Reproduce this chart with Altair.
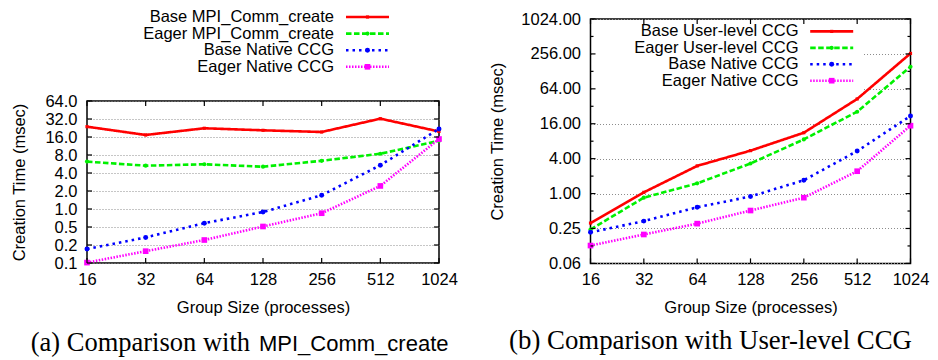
import json
import altair as alt
import pandas as pd

# ---------------- data ----------------
sizes = [16, 32, 64, 128, 256, 512, 1024]

base_mpi = [23.8, 17.3, 22.4, 20.7, 19.4, 32.4, 19.8]
eager_mpi = [6.2, 5.3, 5.6, 5.1, 6.4, 8.4, 13.8]
base_native = [0.215, 0.335, 0.58, 0.89, 1.7, 5.4, 21.8]
eager_native = [0.127, 0.197, 0.303, 0.51, 0.85, 2.43, 14.8]
base_user = [0.31, 1.05, 3.0, 5.5, 11.2, 42.8, 261]
eager_user = [0.24, 0.85, 1.5, 3.3, 8.6, 25.8, 154]

names_a = ["Base MPI_Comm_create", "Eager MPI_Comm_create", "Base Native CCG", "Eager Native CCG"]
names_b = ["Base User-level CCG", "Eager User-level CCG", "Base Native CCG", "Eager Native CCG"]

yticks_a = [0.125, 0.25, 0.5, 1, 2, 4, 8, 16, 32, 64]
ylabels_a = ["0.1", "0.2", "0.5", "1.0", "2.0", "4.0", "8.0", "16.0", "32.0", "64.0"]
yticks_b = [0.0625, 0.25, 1, 4, 16, 64, 256, 1024]
ylabels_b = ["0.06", "0.25", "1.00", "4.00", "16.00", "64.00", "256.00", "1024.00"]
yminor_b = [0.125, 0.5, 2, 8, 32, 128, 512]

caption_a = ["(a) Comparison with", "MPI_Comm_create"]
caption_b = "(b) Comparison with User-level CCG"
x_title = "Group Size (processes)"
y_title = "Creation Time (msec)"

# ---------------- styles ----------------
colors = ["#ff0000", "#00f000", "#0000ff", "#ff00ff"]
dashes = [[1, 0], [5.5, 2.5], [2.5, 4], [1.5, 1.5]]
shapes = ["square", "circle", "circle", "square"]
msizes = [10, 32, 40, 50]
SANS = "Liberation Sans"
SERIF = "Liberation Serif"
FS = 16.5
LW = 2.6


def long_df(names, series):
    rows = []
    for n, vals in zip(names, series):
        for s, v in zip(sizes, vals):
            rows.append({"series": n, "size": s, "value": v})
    return pd.DataFrame(rows)


def enc_style(names):
    return dict(
        color=alt.Color("series:N", scale=alt.Scale(domain=names, range=colors), legend=None),
        strokeDash=alt.StrokeDash("series:N", scale=alt.Scale(domain=names, range=dashes), legend=None),
    )


def enc_marker(names):
    return dict(
        color=alt.Color("series:N", scale=alt.Scale(domain=names, range=colors), legend=None),
        shape=alt.Shape("series:N", scale=alt.Scale(domain=names, range=shapes), legend=None),
        size=alt.Size("series:N", scale=alt.Scale(domain=names, range=msizes), legend=None),
    )


def x_scale():
    return alt.Scale(type="log", base=2, domain=[16, 1024], nice=False)


def y_scale(ydom):
    return alt.Scale(type="log", base=2, domain=ydom, nice=False)


def tick_marks(ydom, yvals, w, h, tsize, with_x=True):
    """Inward tick marks (gnuplot style) on all four sides, placed by the scales."""
    out = []
    rule = dict(color="black", strokeWidth=1.2)
    if with_x:
        xdf = pd.DataFrame({"size": sizes})
        xenc = alt.X("size:Q", scale=x_scale(), axis=None)
        out.append(alt.Chart(xdf).mark_rule(**rule).encode(x=xenc, y=alt.value(h - tsize), y2=alt.value(h)))
        out.append(alt.Chart(xdf).mark_rule(**rule).encode(x=xenc, y=alt.value(0), y2=alt.value(tsize)))
    ydf = pd.DataFrame({"value": yvals})
    yenc = alt.Y("value:Q", scale=y_scale(ydom), axis=None)
    out.append(alt.Chart(ydf).mark_rule(**rule).encode(y=yenc, x=alt.value(0), x2=alt.value(tsize)))
    out.append(alt.Chart(ydf).mark_rule(**rule).encode(y=yenc, x=alt.value(w - tsize), x2=alt.value(w)))
    return out


def legend_layers(names, xt, xa, xb, rows_px):
    ldf = pd.DataFrame({"series": names, "row": list(range(len(names)))})
    lb = alt.Chart(ldf)
    ly = alt.Y("row:Q", scale=alt.Scale(domain=[0, len(names) - 1], range=rows_px), axis=None)
    text = lb.mark_text(align="right", baseline="middle", font=SANS, fontSize=FS, color="black").encode(
        x=alt.value(xt), y=ly, text="series:N")
    rule = lb.mark_rule(strokeWidth=LW).encode(x=alt.value(xa), x2=alt.value(xb), y=ly, **enc_style(names))
    pts = lb.mark_point(filled=True, opacity=1).encode(x=alt.value((xa + xb) / 2), y=ly, **enc_marker(names))
    return [text, rule, pts]


def data_layers(names, series, yticks, ylabels, ydom, ytitle_pad):
    df = long_df(names, series)
    base = alt.Chart(df)
    expr = f"{json.dumps(ylabels)}[indexof({json.dumps(yticks)}, datum.value)]"
    x_main = alt.X("size:Q", scale=x_scale(), axis=alt.Axis(
        orient="bottom", values=sizes, format="d", title=x_title, grid=False, ticks=False,
        domain=False, labelPadding=8, titlePadding=12, labelFlush=False))
    y_main = alt.Y("value:Q", scale=y_scale(ydom), axis=alt.Axis(
        orient="left", values=yticks, labelExpr=expr, title=y_title, grid=True,
        gridColor="#8c8c8c", gridDash=[1, 2], gridWidth=1, ticks=False, domain=False,
        labelPadding=10, titlePadding=ytitle_pad, labelFlush=False))
    lines = base.mark_line(strokeWidth=LW).encode(x=x_main, y=y_main, **enc_style(names))
    pts = base.mark_point(filled=True, opacity=1).encode(
        x=alt.X("size:Q", scale=x_scale(), axis=None),
        y=alt.Y("value:Q", scale=y_scale(ydom), axis=None), **enc_marker(names))
    return [lines, pts]


def caption_text(txt, font, size, align, x, y):
    return alt.Chart(pd.DataFrame({"t": [txt]})).mark_text(
        font=font, fontSize=size, align=align, baseline="alphabetic", color="black").encode(
        x=alt.value(x), y=alt.value(y), text="t:N")


# ---------------- panel (a) ----------------
WA, HA = 352, 162
YDOM_A = [0.125, 64]
legend_a = alt.layer(*legend_layers(names_a, 247, 259, 302, [-2, 47.8])).resolve_scale(
    y="independent").properties(width=WA, height=66, view=alt.ViewBackground(stroke="transparent"))

plot_a = alt.layer(
    *data_layers(names_a, [base_mpi, eager_mpi, base_native, eager_native],
                 yticks_a, ylabels_a, YDOM_A, 17),
    *tick_marks(YDOM_A, yticks_a, WA, HA, 5),
    caption_text(caption_a[0], SERIF, 26.5, "right", 163, 250),
    caption_text(caption_a[1], SANS, 22, "left", 172, 250),
).resolve_scale(x="independent", y="independent").resolve_axis(
    x="independent", y="independent").properties(width=WA, height=HA)

panel_a = alt.vconcat(legend_a, plot_a, spacing=6).resolve_scale(
    color="independent", strokeDash="independent", shape="independent", size="independent",
    x="independent", y="independent")

# ---------------- panel (b) ----------------
WB, HB = 320, 244.4
YDOM_B = [0.0625, 1024]
legend_bg = alt.Chart(pd.DataFrame({"k": [0]})).mark_rect(color="white").encode(
    x=alt.value(1.5), x2=alt.value(272), y=alt.value(1.5), y2=alt.value(74))

panel_b = alt.layer(
    *data_layers(names_b, [base_user, eager_user, base_native, eager_native],
                 yticks_b, ylabels_b, YDOM_B, 15.5),
    legend_bg,
    *tick_marks(YDOM_B, yticks_b, WB, HB, 5),
    *tick_marks(YDOM_B, yminor_b, WB, HB, 3, with_x=False),
    *legend_layers(names_b, 208, 219.7, 262.7, [12.4, 61.7]),
    caption_text(caption_b, SERIF, 26.8, "center", 120, 330),
).resolve_scale(x="independent", y="independent").resolve_axis(
    x="independent", y="independent").properties(width=WB, height=HB)

chart = alt.hconcat(panel_a, panel_b, spacing=29.5).resolve_scale(
    color="independent", strokeDash="independent", shape="independent", size="independent",
    x="independent", y="independent"
).properties(
    padding={"left": 3, "top": 0, "right": 0, "bottom": 0}
).configure_view(
    stroke="black", strokeWidth=1.5
).configure_axis(
    labelFont=SANS, labelFontSize=FS, labelColor="black",
    titleFont=SANS, titleFontSize=FS, titleFontWeight="normal", titleColor="black",
)

chart.save("out.html", embed_options={"renderer": "svg", "actions": False})
